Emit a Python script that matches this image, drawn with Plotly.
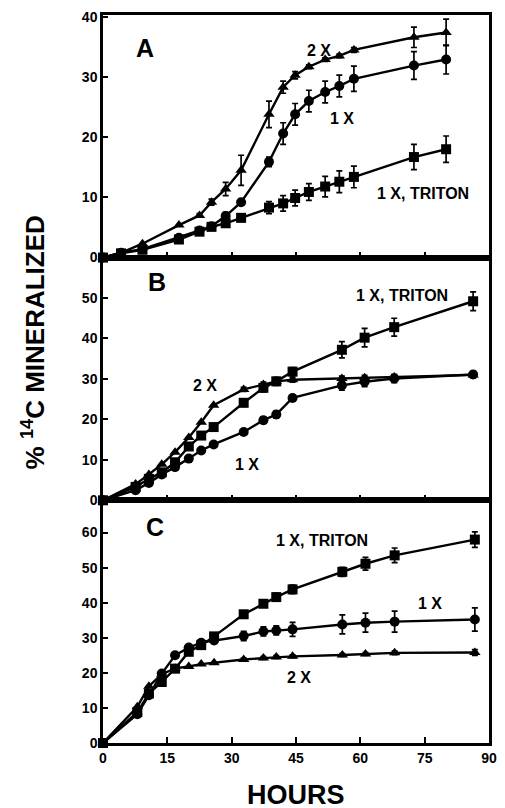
import plotly.graph_objects as go

# ---------------- data ----------------
# Panel A
tA = [0, 4.2, 9.2, 17.7, 22.5, 25.3, 28.6, 32.2, 38.7, 42.0, 44.8, 48.0, 51.8, 55.1, 58.5, 72.5, 80.0]
A_2x = [0, 0.8, 2.3, 5.4, 7.0, 9.2, 11.4, 14.5, 23.8, 28.3, 30.3, 31.7, 32.9, 33.5, 34.5, 36.6, 37.4]
A_2x_err = [0, 0, 0, 0, 0.3, 0.5, 1.1, 2.5, 2.2, 1.0, 0.6, 0.3, 0.3, 0.3, 0.4, 1.7, 2.2]
A_1x = [0, 0.8, 1.4, 3.3, 4.5, 5.2, 6.9, 9.2, 15.9, 20.6, 23.8, 26.0, 27.5, 28.5, 29.7, 31.9, 32.9]
A_1x_err = [0, 0, 0, 0, 0.3, 0.4, 0.6, 0.5, 0.8, 1.8, 1.8, 1.8, 1.8, 1.8, 2.1, 2.3, 2.4]
A_tr = [0, 0.7, 1.3, 3.0, 4.3, 5.1, 5.7, 6.6, 8.3, 9.0, 9.9, 10.9, 11.8, 12.6, 13.4, 16.7, 18.0]
A_tr_err = [0, 0, 0, 0.3, 0.4, 0.5, 0.6, 0.6, 1.0, 1.3, 1.3, 1.4, 1.7, 1.8, 1.8, 2.1, 2.2]

# Panel B
tB = [0, 7.6, 10.7, 13.7, 16.8, 20.0, 22.9, 25.8, 32.8, 37.4, 40.4, 44.2, 55.7, 61.0, 67.9, 86.3]
B_2x = [0, 4.0, 6.4, 8.9, 11.9, 15.5, 19.3, 23.5, 27.4, 28.6, 29.4, 29.8, 30.1, 30.3, 30.5, 31.0]
B_2x_err = [0, 0, 0, 0, 0, 0, 0, 0, 0.5, 0.6, 0.6, 0.6, 0.6, 0.6, 0.6, 0.5]
B_1x = [0, 2.5, 4.3, 6.4, 8.2, 10.3, 12.3, 13.8, 16.9, 19.8, 21.2, 25.3, 28.4, 29.3, 30.1, 31.1]
B_1x_err = [0, 0, 0, 0, 0, 0, 0, 0, 0.5, 0.8, 0.9, 0.7, 1.2, 1.2, 1.0, 0.8]
B_tr = [0, 3.3, 5.3, 6.9, 9.4, 13.3, 16.0, 18.1, 24.1, 27.8, 29.4, 31.8, 37.2, 40.2, 42.8, 49.2]
B_tr_err = [0, 0.3, 0.3, 0.4, 0.5, 0.6, 0.8, 0.8, 0.9, 1.0, 1.0, 1.0, 2.0, 2.3, 2.2, 2.3]

# Panel C
tC = [0, 8.0, 10.7, 13.7, 16.8, 20.0, 22.9, 25.9, 32.8, 37.4, 40.4, 44.2, 55.8, 61.2, 68.0, 86.7]
C_2x = [0, 10.3, 16.2, 19.6, 21.3, 21.8, 22.5, 22.9, 23.8, 24.2, 24.5, 24.7, 25.1, 25.4, 25.7, 25.8]
C_2x_err = [0, 0, 0, 0, 0, 0, 0, 0, 0.4, 0.4, 0.4, 0.4, 0.4, 0.4, 0.5, 0.8]
C_1x = [0, 8.2, 13.6, 19.8, 25.0, 27.2, 28.6, 29.2, 30.5, 31.8, 32.1, 32.4, 33.8, 34.3, 34.6, 35.2]
C_1x_err = [0, 0, 0, 0, 0, 0, 0, 0.4, 1.3, 1.3, 1.3, 2.0, 2.7, 2.7, 3.0, 3.3]
C_tr = [0, 8.8, 14.1, 17.4, 21.2, 26.0, 27.9, 30.4, 36.7, 39.7, 41.6, 43.8, 48.8, 51.1, 53.5, 58.0]
C_tr_err = [0, 0, 0, 0, 0, 0, 0, 0.8, 0.8, 0.8, 1.1, 1.2, 1.3, 1.8, 2.1, 2.2]

x_ticks = [0, 15, 30, 45, 60, 75, 90]
yA_ticks = [0, 10, 20, 30, 40]
yB_ticks = [0, 10, 20, 30, 40, 50]
yC_ticks = [0, 10, 20, 30, 40, 50, 60]

# ---------------- figure ----------------
FONT = "Liberation Sans"
fig = go.Figure()

def add(t, y, err, symbol, xa, ya):
    fig.add_trace(go.Scatter(
        x=t, y=y, mode="lines+markers", xaxis=xa, yaxis=ya,
        line=dict(color="black", width=2.4),
        marker=dict(symbol=symbol, size=10, color="black"),
        error_y=dict(type="data", array=err, visible=True, color="black",
                     thickness=1.7, width=3),
        cliponaxis=False, showlegend=False))

add(tA, A_tr, A_tr_err, "square", "x", "y")
add(tA, A_1x, A_1x_err, "circle", "x", "y")
add(tA, A_2x, A_2x_err, "triangle-up", "x", "y")
add(tB, B_1x, B_1x_err, "circle", "x2", "y2")
add(tB, B_tr, B_tr_err, "square", "x2", "y2")
add(tB, B_2x, B_2x_err, "triangle-up", "x2", "y2")
add(tC, C_2x, C_2x_err, "triangle-up", "x3", "y3")
add(tC, C_tr, C_tr_err, "square", "x3", "y3")
add(tC, C_1x, C_1x_err, "circle", "x3", "y3")

tickfont = dict(family=FONT, size=14, color="black", weight="bold")
common_x = dict(range=[0, 90], tickvals=x_ticks, ticks="inside", ticklen=6,
                tickwidth=2, tickcolor="black", showline=True, linewidth=2.5,
                linecolor="black", mirror=True, showgrid=False, zeroline=False,
                tickfont=tickfont)
common_y = dict(ticks="inside", ticklen=5, tickwidth=2, tickcolor="black",
                showline=True, linewidth=2.5, linecolor="black", mirror=True,
                showgrid=False, zeroline=False, tickfont=tickfont)

dA = [0.6668, 1.0]
dB = [0.3334, 0.6668]
dC = [0.0, 0.3334]

fig.update_layout(
    width=505, height=808, autosize=False,
    margin=dict(l=103, r=8, t=15, b=65),
    plot_bgcolor="white", paper_bgcolor="white",
    xaxis=dict(common_x, domain=[0, 1], anchor="y", showticklabels=False),
    yaxis=dict(common_y, domain=dA, range=[0, 40.3], tickvals=yA_ticks, anchor="x"),
    xaxis2=dict(common_x, domain=[0, 1], anchor="y2", showticklabels=False, matches="x"),
    yaxis2=dict(common_y, domain=dB, range=[0, 60], tickvals=yB_ticks, anchor="x2"),
    xaxis3=dict(common_x, domain=[0, 1], anchor="y3", matches="x"),
    yaxis3=dict(common_y, domain=dC, range=[0, 69.2], tickvals=yC_ticks, anchor="x3"),
)

lab = dict(family=FONT, size=16, color="black", weight="bold")
big = dict(family=FONT, size=25, color="black", weight="bold")

def ann(x, y, text, xr, yr, font):
    fig.add_annotation(x=x, y=y, xref=xr, yref=yr, text=text, showarrow=False,
                       font=font, xanchor="center", yanchor="middle")

ann(9.8, 34.8, "A", "x", "y", big)
ann(50.3, 34.4, "2 X", "x", "y", lab)
ann(55.7, 23.1, "1 X", "x", "y", lab)
ann(74.7, 10.7, "1 X, TRITON", "x", "y", lab)

ann(12.6, 53.9, "B", "x2", "y2", big)
ann(69.8, 50.6, "1 X, TRITON", "x2", "y2", lab)
ann(23.7, 28.4, "2 X", "x2", "y2", lab)
ann(33.6, 8.8, "1 X", "x2", "y2", lab)

ann(12.2, 61.6, "C", "x3", "y3", big)
ann(51.1, 57.6, "1 X, TRITON", "x3", "y3", lab)
ann(76.3, 39.7, "1 X", "x3", "y3", lab)
ann(45.8, 18.8, "2 X", "x3", "y3", lab)

# HOURS centred near page y=795; y-title centred near page y=342, x=33
fig.add_annotation(x=0.5, y=(743 - 795) / 728, xref="paper", yref="paper", text="HOURS",
                   showarrow=False, xanchor="center", yanchor="middle",
                   font=dict(family=FONT, size=27, color="black", weight="bold"))
fig.add_annotation(x=(33 - 103) / 394, y=(743 - 342) / 728, xref="paper", yref="paper",
                   text="% <sup>14</sup>C MINERALIZED", textangle=-90,
                   showarrow=False, xanchor="center", yanchor="middle",
                   font=dict(family=FONT, size=26, color="black", weight="bold"))

fig.write_html(
    "out.html",
    config={"responsive": False, "displayModeBar": False},
    post_script=("document.documentElement.style.overflow='hidden';"
                 "document.body.style.margin='0';document.body.style.overflow='hidden';"),
)
